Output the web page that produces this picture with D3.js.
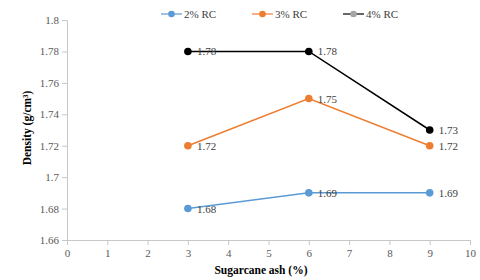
<!DOCTYPE html>
<html><head><meta charset="utf-8">
<script src="https://cdn.jsdelivr.net/npm/d3@7"></script>
<style>body{margin:0;background:#fff}svg{display:block}svg text{font-family:"Liberation Serif","Times New Roman",serif !important}</style>
</head><body>
<script>
const xValues = [3, 6, 9];
const seriesNames = ["2% RC", "3% RC", "4% RC"];
const rc2 = [1.68, 1.69, 1.69];
const rc3 = [1.72, 1.75, 1.72];
const rc4 = [1.78, 1.78, 1.73];
const colors = ["#5B9BD5", "#ED7D31", "#000000"];
const legendMarkerColors = ["#5B9BD5", "#ED7D31", "#A5A5A5"];
const yTicks = [1.66, 1.68, 1.7, 1.72, 1.74, 1.76, 1.78, 1.8];
const xTicks = [0,1,2,3,4,5,6,7,8,9,10];
const series = [rc2, rc3, rc4];

const W = 480, H = 280;
const svg = d3.select("body").append("svg").attr("width", W).attr("height", H);
const x = d3.scaleLinear().domain([0, 10]).range([67, 470]);
const y = d3.scaleLinear().domain([1.66, 1.8]).range([240, 20]);

const fmt = d => String(+d.toFixed(2));
const yAxis = svg.append("g").attr("transform", "translate(67,0)")
  .call(d3.axisLeft(y).tickValues(yTicks).tickSize(5).tickPadding(3).tickFormat(fmt));
const xAxis = svg.append("g").attr("transform", "translate(0,240)")
  .call(d3.axisBottom(x).tickValues(xTicks).tickSize(5).tickPadding(4).tickFormat(d3.format("d")));
[yAxis, xAxis].forEach(a => {
  a.attr("font-family", null);
  a.selectAll("path,line").attr("stroke", "#c8c8c8");
  a.selectAll("text").style("font-size", "11px").attr("fill", "#595959");
});

series.forEach((s, i) => {
  const pts = xValues.map((xv, j) => [xv, s[j]]);
  svg.append("path").datum(pts)
    .attr("fill", "none").attr("stroke", colors[i]).attr("stroke-width", 1.5)
    .attr("d", d3.line().x(d => x(d[0])).y(d => y(d[1])));
  svg.selectAll(null).data(pts).enter().append("circle")
    .attr("cx", d => x(d[0])).attr("cy", d => y(d[1])).attr("r", 3.8).attr("fill", colors[i]);
  svg.selectAll(null).data(pts).enter().append("text")
    .attr("x", d => x(d[0]) + 9).attr("y", d => y(d[1]) + 4)
    .style("font-size", "11px").attr("fill", "#404040")
    .text(d => d[1].toFixed(2));
});

// legend
const legX = [161, 252, 343];
seriesNames.forEach((n, i) => {
  const g = svg.append("g").attr("transform", `translate(${legX[i]},14)`);
  g.append("line").attr("x1", 0).attr("x2", 21).attr("stroke", colors[i]).attr("stroke-width", 1.2);
  g.append("circle").attr("cx", 10.5).attr("r", 3.3).attr("fill", legendMarkerColors[i]);
  g.append("text").attr("x", 23).attr("y", 4).style("font-size", "11px")
    .attr("fill", "#404040").text(n);
});

svg.append("text").attr("transform", "translate(31,128) rotate(-90)")
  .attr("text-anchor", "middle").style("font-size", "11.5px")
  .attr("font-weight", "bold").attr("fill", "#000")
  .text("Density (g/cm³)");
svg.append("text").attr("x", 261).attr("y", 274).attr("text-anchor", "middle")
  .style("font-size", "11.5px").attr("font-weight", "bold").attr("fill", "#000")
  .text("Sugarcane ash (%)");
</script>
</body></html>
